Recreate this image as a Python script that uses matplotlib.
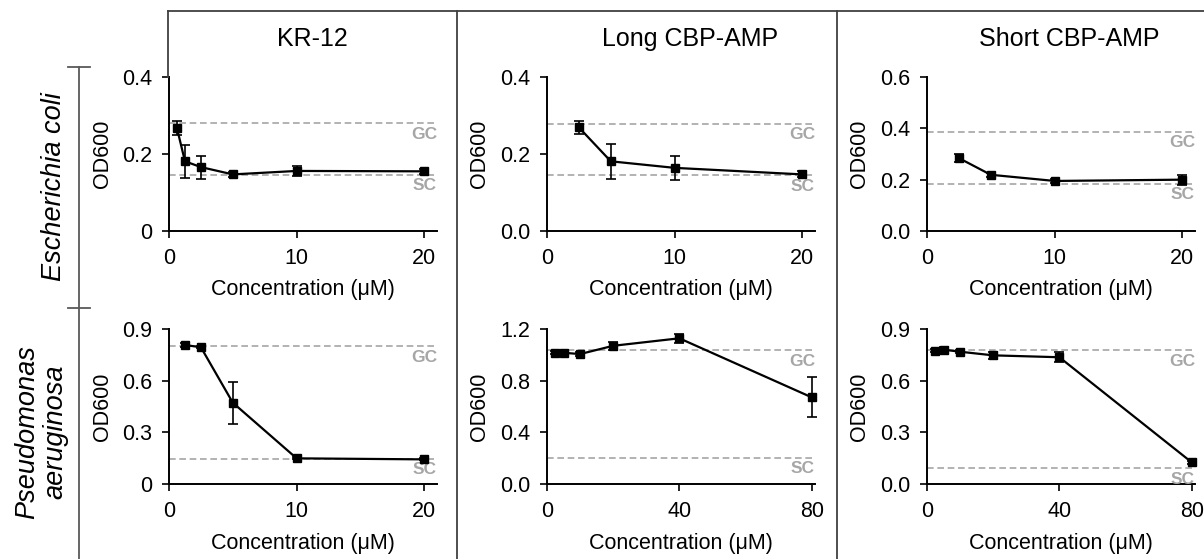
import matplotlib
matplotlib.use('Agg')
import matplotlib.pyplot as plt
from matplotlib.lines import Line2D
from matplotlib.transforms import offset_copy

plt.rcParams['font.family'] = ['Liberation Sans', 'DejaVu Sans']

# columns / rows
peptides = ['KR-12', 'Long CBP-AMP', 'Short CBP-AMP']
species = ['Escherichia coli', 'Pseudomonas\naeruginosa']

# Escherichia coli
conc_ec_kr = [0.625, 1.25, 2.5, 5, 10, 20]
od_ec_kr = [0.267, 0.181, 0.166, 0.147, 0.156, 0.155]
err_ec_kr = [0.018, 0.043, 0.030, 0.007, 0.012, 0.007]

conc_ec_long = [2.5, 5, 10, 20]
od_ec_long = [0.269, 0.181, 0.164, 0.147]
err_ec_long = [0.017, 0.045, 0.031, 0.008]

conc_ec_short = [2.5, 5, 10, 20]
od_ec_short = [0.284, 0.219, 0.195, 0.200]
err_ec_short = [0.016, 0.008, 0.007, 0.019]

# Pseudomonas aeruginosa
conc_pa_kr = [1.25, 2.5, 5, 10, 20]
od_pa_kr = [0.807, 0.794, 0.472, 0.149, 0.143]
err_pa_kr = [0.012, 0.005, 0.121, 0.006, 0.006]

conc_pa_long = [2.5, 5, 10, 20, 40, 80]
od_pa_long = [1.016, 1.016, 1.006, 1.070, 1.128, 0.671]
err_pa_long = [0.012, 0.025, 0.015, 0.030, 0.035, 0.155]

conc_pa_short = [2.5, 5, 10, 20, 40, 80]
od_pa_short = [0.774, 0.780, 0.768, 0.747, 0.736, 0.126]
err_pa_short = [0.010, 0.015, 0.008, 0.022, 0.030, 0.010]

# growth control / sterility control levels
gc_ec = [0.280, 0.279, 0.387]
sc_ec = [0.146, 0.145, 0.185]
gc_pa = [0.801, 1.035, 0.776]
sc_pa = [0.145, 0.204, 0.091]

# axis ticks
xticks_ec = [[0, 10, 20], [0, 10, 20], [0, 10, 20]]
xticks_pa = [[0, 10, 20], [0, 40, 80], [0, 40, 80]]
yticks_ec = [[0, 0.2, 0.4], [0.0, 0.2, 0.4], [0.0, 0.2, 0.4, 0.6]]
ylabels_ec = [['0', '0.2', '0.4'], ['0.0', '0.2', '0.4'], ['0.0', '0.2', '0.4', '0.6']]
yticks_pa = [[0, 0.3, 0.6, 0.9], [0.0, 0.4, 0.8, 1.2], [0.0, 0.3, 0.6, 0.9]]
ylabels_pa = [['0', '0.3', '0.6', '0.9'], ['0.0', '0.4', '0.8', '1.2'], ['0.0', '0.3', '0.6', '0.9']]

data = [
    [(conc_ec_kr, od_ec_kr, err_ec_kr), (conc_ec_long, od_ec_long, err_ec_long),
     (conc_ec_short, od_ec_short, err_ec_short)],
    [(conc_pa_kr, od_pa_kr, err_pa_kr), (conc_pa_long, od_pa_long, err_pa_long),
     (conc_pa_short, od_pa_short, err_pa_short)],
]
gcs = [gc_ec, gc_pa]
scs = [sc_ec, sc_pa]
xticks = [xticks_ec, xticks_pa]
yticks = [yticks_ec, yticks_pa]
ylabels = [ylabels_ec, ylabels_pa]

W, H = 1204, 559
fig = plt.figure(figsize=(W / 100, H / 100), dpi=100)

lefts = [169, 547, 927]
ax_w = 268
rows = [(77, 231), (329, 484)]
FS = 15.5
grey = '#a6a6a6'

for r in range(2):
    top, bot = rows[r]
    for c in range(3):
        ax = fig.add_axes([lefts[c] / W, 1 - bot / H, ax_w / W, (bot - top) / H])
        x, y, e = data[r][c]
        xmax = 21 if xticks[r][c][-1] == 20 else 81
        ymax = yticks[r][c][-1]
        ax.axhline(gcs[r][c], color=grey, lw=1.2, dashes=(4, 2.2), zorder=1)
        ax.axhline(scs[r][c], color=grey, lw=1.2, dashes=(4, 2.2), zorder=1)
        # labels sit just under their dashed line
        tr = offset_copy(ax.get_yaxis_transform(), fig=fig, x=0, y=-2.5, units='points')
        ax.text(1.0, gcs[r][c], 'GC', transform=tr, ha='right',
                va='top', color=grey, fontsize=12.5, fontweight='bold')
        ax.text(1.0, scs[r][c], 'SC', transform=tr, ha='right',
                va='top', color=grey, fontsize=12.5, fontweight='bold')
        ax.errorbar(x, y, yerr=e, color='black', lw=1.6, marker='s', ms=5.5,
                    capsize=3.5, elinewidth=1.2, capthick=1.2, clip_on=False, zorder=3)
        ax.set_xlim(0, xmax)
        ax.set_ylim(0, ymax)
        ax.set_xticks(xticks[r][c])
        ax.set_yticks(yticks[r][c])
        ax.set_yticklabels(ylabels[r][c])
        for s in ['top', 'right']:
            ax.spines[s].set_visible(False)
        for s in ['left', 'bottom']:
            ax.spines[s].set_linewidth(1.4)
        ax.tick_params(direction='out', length=5, width=1.2, labelsize=FS, pad=7)
        ax.text(-67 / ax_w, 0.5, 'OD600', transform=ax.transAxes, rotation=90,
                ha='center', va='center', fontsize=FS)
        ax.text(0.5, 1 - (59 + (bot - top)) / (bot - top), 'Concentration (μM)',
                transform=ax.transAxes, ha='center', va='center', fontsize=FS)

# peptide titles
for name, xc in zip(peptides, [312, 690, 1069]):
    fig.text(xc / W, 1 - 39 / H, name, ha='center', va='center', fontsize=18)

# frame lines
frame = '#404040'
fig.add_artist(Line2D([168 / W, 1], [1 - 11 / H, 1 - 11 / H], color=frame, lw=1.3))
fig.add_artist(Line2D([168 / W, 168 / W], [1 - 77 / H, 1 - 11 / H], color=frame, lw=1.3))
for xp in [457, 837]:
    fig.add_artist(Line2D([xp / W, xp / W], [0, 1 - 11 / H], color=frame, lw=1.3))

# species bracket
br = '#595959'
fig.add_artist(Line2D([79 / W, 79 / W], [0, 1 - 67 / H], color=br, lw=1.3))
for yp in [67, 308]:
    fig.add_artist(Line2D([68 / W, 90 / W], [1 - yp / H, 1 - yp / H], color=br, lw=1.3))

fig.text(54 / W, 1 - 187 / H, species[0], rotation=90, ha='center', va='center',
         fontsize=19.5, style='italic')
fig.text(41 / W, 1 - 432 / H, species[1], rotation=90, ha='center', va='center',
         fontsize=19.5, style='italic', linespacing=1.1, multialignment='center')

fig.savefig('out.png', dpi=100)
